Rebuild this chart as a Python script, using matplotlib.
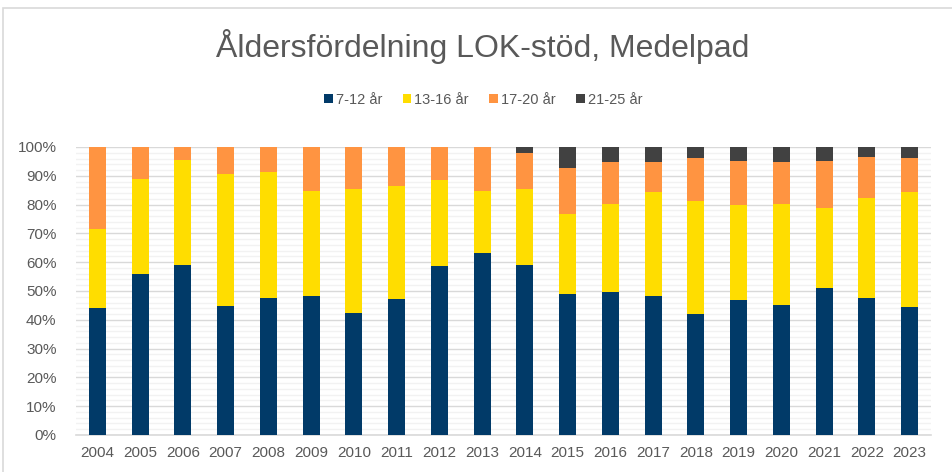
import matplotlib.pyplot as plt
import numpy as np
from matplotlib.patches import Rectangle
from matplotlib.ticker import MultipleLocator, PercentFormatter

plt.rcParams['font.family'] = ['Liberation Sans', 'DejaVu Sans']

years = [str(y) for y in range(2004, 2024)]
series = ['7-12 år', '13-16 år', '17-20 år', '21-25 år']
colors = ['#013A68', '#FFDD00', '#FF9441', '#414141']

# andelar i procent
age_7_12 = [44.0, 55.8, 59.1, 44.9, 47.5, 48.2, 42.2, 47.2, 58.6, 63.2,
            59.1, 48.9, 49.8, 48.3, 42.0, 46.8, 45.0, 50.9, 47.4, 44.6]
age_13_16 = [27.6, 33.1, 36.4, 45.6, 43.9, 36.4, 43.3, 39.3, 29.8, 21.5,
             26.3, 27.7, 30.4, 36.2, 39.4, 33.2, 35.1, 27.8, 35.0, 39.7]
age_17_20 = [28.4, 11.1, 4.5, 9.5, 8.6, 15.4, 14.5, 13.5, 11.6, 15.3,
             12.5, 16.0, 14.5, 10.3, 14.7, 15.1, 14.7, 16.4, 14.2, 12.0]
age_21_25 = [0, 0, 0, 0, 0, 0, 0, 0, 0, 0,
             2.1, 7.4, 5.3, 5.2, 3.9, 4.9, 5.2, 4.9, 3.4, 3.7]

data = [age_7_12, age_13_16, age_17_20, age_21_25]

fig = plt.figure(figsize=(9.53, 4.72), dpi=100)
ax = fig.add_axes([76 / 953, 37 / 472, 855 / 953, 288 / 472])

# ram runt diagramytan
fig.patches.append(Rectangle((3.5 / 953, -0.1), 1.2, (472 - 7.5) / 472 + 0.1,
                             transform=fig.transFigure, fill=False,
                             edgecolor='#D9D9D9', linewidth=1.2))

x = np.arange(len(years))
bottom = np.zeros(len(years))
for vals, name, c in zip(data, series, colors):
    v = np.array(vals) / 100
    ax.bar(x, v, width=0.4, bottom=bottom, color=c, label=name, zorder=3)
    bottom += v

ax.set_xlim(-0.5, len(years) - 0.5)
ax.set_ylim(0, 1)
ax.yaxis.set_major_locator(MultipleLocator(0.1))
ax.yaxis.set_minor_locator(MultipleLocator(0.02))
ax.yaxis.set_major_formatter(PercentFormatter(1.0, decimals=0))
ax.grid(axis='y', which='major', color='#D9D9D9', linewidth=1, zorder=0)
ax.grid(axis='y', which='minor', color='#F2F2F2', linewidth=1, zorder=0)
ax.set_xticks(x)
ax.set_xticklabels(years)
ax.tick_params(axis='both', which='both', length=0, labelsize=11, colors='#595959')
ax.tick_params(axis='y', pad=14)
ax.tick_params(axis='x', pad=8)
for s in ['top', 'right', 'left']:
    ax.spines[s].set_visible(False)
ax.spines['bottom'].set_color('#D9D9D9')
ax.spines['bottom'].set_linewidth(1.2)
ax.set_axisbelow(True)

fig.text(0.506, 1 - 46 / 472, 'Åldersfördelning LOK-stöd, Medelpad',
         ha='center', va='center', fontsize=23, color='#595959')

fig.legend(loc='center', bbox_to_anchor=(0.507, 1 - 100 / 472), ncol=4,
           frameon=False, fontsize=10.5, labelcolor='#595959',
           handlelength=0.6, handleheight=0.6, handletextpad=0.2,
           columnspacing=1.4)

fig.savefig('out.png', dpi=100)
